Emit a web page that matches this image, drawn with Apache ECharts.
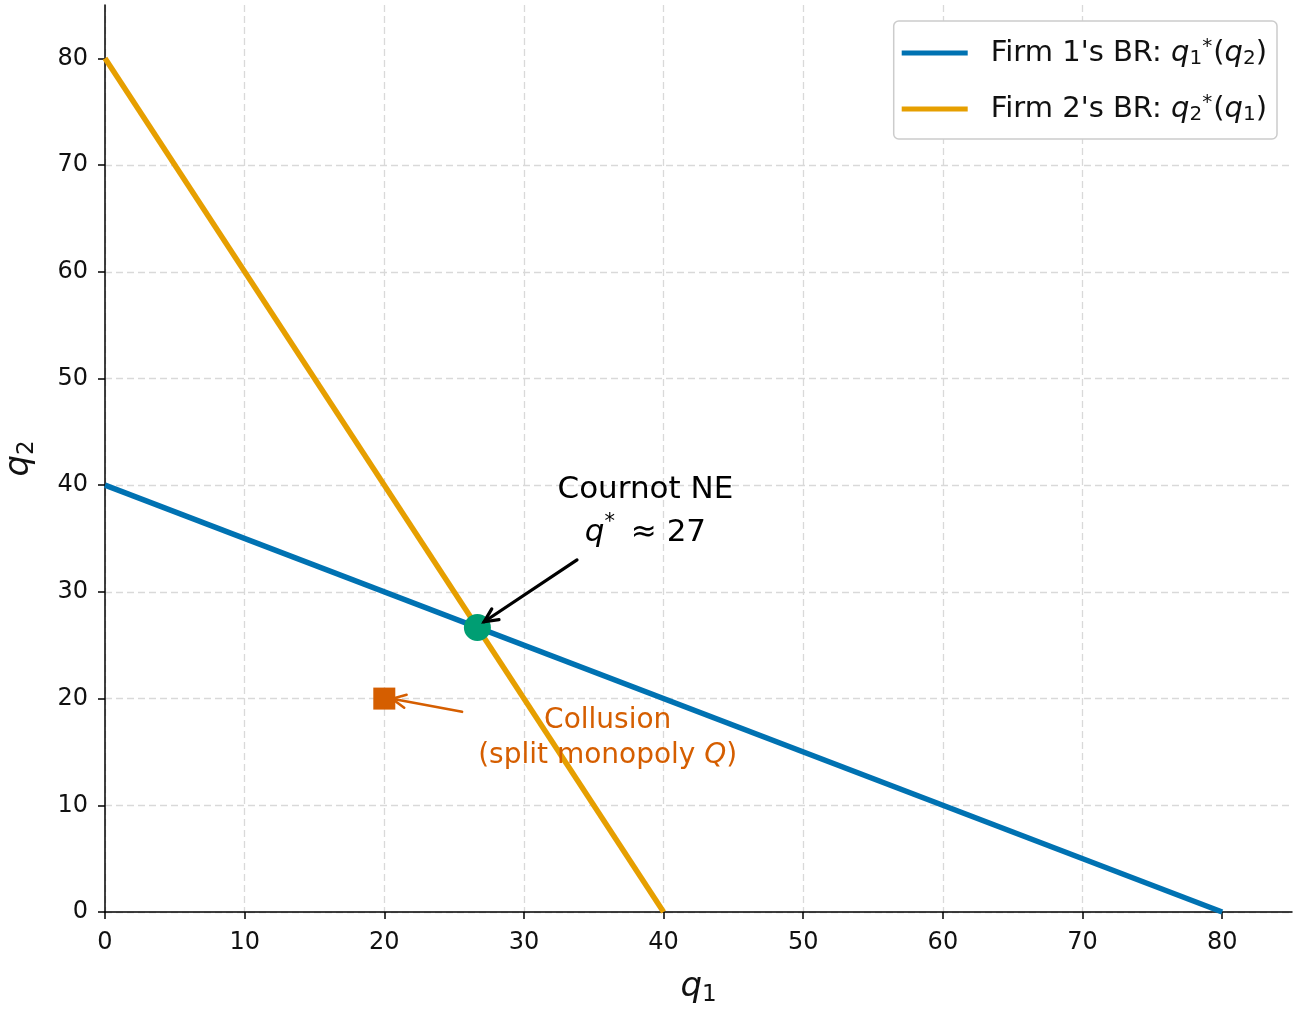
<!DOCTYPE html>
<html>
<head>
<meta charset="utf-8">
<script src="https://cdn.jsdelivr.net/npm/echarts@6/dist/echarts.min.js"></script>
<style>
  html, body { margin: 0; padding: 0; background: #fff; }
  #chart { width: 1293px; height: 1011px; }
</style>
</head>
<body>
<div id="chart"></div>
<script>
// best response lines, points as [q1, q2]
var firm1BR = [[0, 40], [80, 0]];
var firm2BR = [[0, 80], [40, 0]];
var cournotNE = [[80 / 3, 80 / 3]];
var collusion = [[20, 20]];
var tickValues = [0, 10, 20, 30, 40, 50, 60, 70, 80];

// annotation arrows: [from, to]
var neArrow = [[33.8, 33.0], [27.15, 27.2]];
var colArrow = [[25.57, 18.76], [20.56, 19.98]];
// annotation text anchors
var neText = [38.7, 37.5];
var colText = [36.0, 16.3];

var FONT = 'DejaVu Sans';
var BLUE = '#0072B2', ORANGE = '#E69F00', GREEN = '#009E73', RED = '#D55E00';

function arrowSeries(pts, color, width) {
    return {
        type: 'custom',
        z: 6,
        silent: true,
        data: [0],
        renderItem: function (params, api) {
            var a = api.coord(pts[0]);
            var b = api.coord(pts[1]);
            var ang = Math.atan2(a[1] - b[1], a[0] - b[0]);
            var h = 15, spread = 0.45;
            var p1 = [b[0] + h * Math.cos(ang + spread), b[1] + h * Math.sin(ang + spread)];
            var p2 = [b[0] + h * Math.cos(ang - spread), b[1] + h * Math.sin(ang - spread)];
            var st = { stroke: color, lineWidth: width, fill: null, lineCap: 'round', lineJoin: 'miter' };
            return {
                type: 'group',
                children: [
                    { type: 'line', shape: { x1: a[0], y1: a[1], x2: b[0], y2: b[1] }, style: st },
                    { type: 'polyline', shape: { points: [p1, b, p2] }, style: st }
                ]
            };
        }
    };
}

function textSeries(pos, text, rich, color, size, lh) {
    return {
        type: 'custom',
        z: 7,
        silent: true,
        data: [0],
        renderItem: function (params, api) {
            var c = api.coord(pos);
            return {
                type: 'text',
                x: c[0], y: c[1],
                style: {
                    text: text,
                    fill: color,
                    fontFamily: FONT,
                    fontSize: size,
                    align: 'center',
                    verticalAlign: 'middle',
                    lineHeight: lh,
                    rich: rich
                }
            };
        }
    };
}

var chart = echarts.init(document.getElementById('chart'));

var axisName = {
    rich: {
        i: { fontFamily: FONT, fontStyle: 'italic', fontSize: 34, color: '#111' },
        s: { fontFamily: FONT, fontSize: 23, color: '#111', padding: [16, 0, 0, 0] }
    }
};
var gridLine = { show: true, showMaxLine: false, lineStyle: { color: '#d9d9d9', type: [7, 4], width: 1.3 } };

var option = {
    backgroundColor: '#fff',
    animation: false,
    textStyle: { fontFamily: FONT },
    grid: { left: 105, right: 1, top: 5, bottom: 99, containLabel: false, outerBoundsMode: 'none' },
    legend: {
        orient: 'vertical',
        right: 16,
        top: 21,
        padding: [16, 10, 14, 8],
        itemGap: 24,
        itemWidth: 66,
        itemHeight: 5,
        icon: 'rect',
        backgroundColor: '#fff',
        borderColor: '#cccccc',
        borderWidth: 1.5,
        borderRadius: 5,
        textStyle: {
            fontFamily: FONT,
            fontSize: 29,
            color: '#111',
            padding: [0, 0, 0, 18],
            rich: {
                i: { fontFamily: FONT, fontStyle: 'italic', fontSize: 29, color: '#111' },
                s: { fontFamily: FONT, fontSize: 20, color: '#111', verticalAlign: 'bottom', padding: [12, 0, 0, 0] },
                t: { fontFamily: FONT, fontSize: 20, color: '#111', verticalAlign: 'top', padding: [0, 1, 12, 0] }
            }
        },
        formatter: function (name) {
            if (name === 'f1') return "Firm 1's BR: {i|q}{s|1}{t|*}(" + '{i|q}{s|2})';
            return "Firm 2's BR: {i|q}{s|2}{t|*}(" + '{i|q}{s|1})';
        },
        data: ['f1', 'f2']
    },
    xAxis: {
        type: 'value',
        min: 0,
        max: 85,
        interval: 10,
        name: '{i|q}{s|1}',
        nameLocation: 'middle',
        nameGap: 56,
        nameTextStyle: axisName,
        axisLine: { onZero: false, lineStyle: { color: '#000', width: 1.5 } },
        axisTick: { length: 7, lineStyle: { color: '#000', width: 1.5 }, customValues: tickValues },
        axisLabel: { fontFamily: FONT, fontSize: 24, color: '#111', margin: 19, customValues: tickValues },
        splitLine: gridLine
    },
    yAxis: {
        type: 'value',
        min: 0,
        max: 85,
        interval: 10,
        name: '{i|q}{s|2}',
        nameLocation: 'middle',
        nameGap: 66,
        nameRotate: 90,
        nameTextStyle: axisName,
        axisLine: { show: true, onZero: false, lineStyle: { color: '#000', width: 1.5 } },
        axisTick: { show: true, length: 7, lineStyle: { color: '#000', width: 1.5 }, customValues: tickValues },
        axisLabel: { fontFamily: FONT, fontSize: 24, color: '#111', margin: 17, customValues: tickValues },
        splitLine: gridLine
    },
    series: [
        {
            name: 'f1', type: 'line', data: firm1BR, symbol: 'none', z: 3,
            color: BLUE, lineStyle: { color: BLUE, width: 5.5 }
        },
        {
            name: 'f2', type: 'line', data: firm2BR, symbol: 'none', z: 3,
            color: ORANGE, lineStyle: { color: ORANGE, width: 5.5 }
        },
        {
            name: 'ne', type: 'scatter', data: cournotNE, symbol: 'circle', symbolSize: 27, z: 5,
            itemStyle: { color: GREEN, opacity: 1 }
        },
        {
            name: 'col', type: 'scatter', data: collusion, symbol: 'rect', symbolSize: 22, z: 5,
            itemStyle: { color: RED, opacity: 1 }
        },
        arrowSeries(neArrow, '#000', 3.2),
        arrowSeries(colArrow, RED, 2.6),
        textSeries(neText, 'Cournot NE\n{i|q}{t|*} ≈ 27', {
            i: { fontFamily: FONT, fontStyle: 'italic', fontSize: 31, color: '#000' },
            t: { fontFamily: FONT, fontSize: 21, color: '#000', verticalAlign: 'top', padding: [0, 6, 14, 0] }
        }, '#000', 31, 43),
        textSeries(colText, 'Collusion\n(split monopoly {i|Q})', {
            i: { fontFamily: FONT, fontStyle: 'italic', fontSize: 28, color: RED }
        }, RED, 28, 35)
    ]
};

chart.setOption(option);
</script>
</body>
</html>
